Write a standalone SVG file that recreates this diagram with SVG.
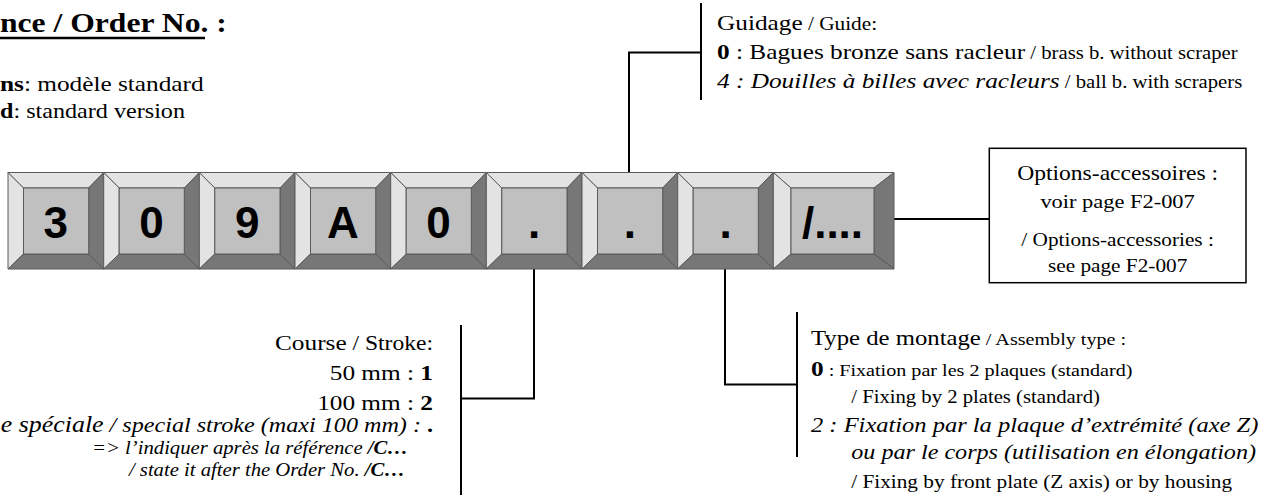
<svg xmlns="http://www.w3.org/2000/svg" width="1264" height="495" viewBox="0 0 1264 495">
<defs>
<style>
.t{font-family:"Liberation Serif","Times New Roman",serif;fill:#000}
.b{font-weight:bold}
.i{font-style:italic}
.k{font-family:"Liberation Sans",Arial,sans-serif;font-weight:bold;font-size:44px;text-anchor:middle;fill:#000}
.lt{fill:#e3e3e3;stroke:#5a5a5a;stroke-width:1}
.dk{fill:#777777;stroke:#5a5a5a;stroke-width:1}
.in{fill:#c0c0c0;stroke:#5a5a5a;stroke-width:1}
.ln{fill:none;stroke:#000;stroke-width:2}
.box{fill:#fff;stroke:#000;stroke-width:1.5}
</style>
</defs>
<rect width="1264" height="495" fill="#fff"/>

<g id="connectors">
<polyline class="ln" points="629,172.5 629,52.5 701,52.5"/>
<line class="ln" x1="701" y1="3" x2="701" y2="100"/>
<polyline class="ln" points="534,269 534,398.5 461,398.5"/>
<line class="ln" x1="461" y1="325" x2="461" y2="495"/>
<polyline class="ln" points="725,269 725,384.5 797,384.5"/>
<line class="ln" x1="797" y1="312" x2="797" y2="457"/>
<line class="ln" x1="894" y1="219" x2="989" y2="219"/>
</g>

<g id="title">
<g transform="translate(0,0) scale(1.15,1)">
<text class="t b" x="0" y="32" font-size="27.5">nce / Order No. :</text>
<text class="t" x="0" y="91" font-size="22"><tspan class="b">ns</tspan>: modèle standard</text>
<text class="t" x="0" y="118" font-size="21"><tspan class="b">d</tspan>: standard version</text>
</g>
<line x1="0" y1="38" x2="205" y2="38" stroke="#000" stroke-width="2.5"/>
</g>

<g id="key1">
<polygon class="lt" points="8,172.5 103.7,172.5 88.7,188 23.5,188"/>
<polygon class="lt" points="8,172.5 23.5,188 23.5,254 8,269"/>
<polygon class="dk" points="103.7,172.5 103.7,269 88.7,254 88.7,188"/>
<polygon class="dk" points="8,269 23.5,254 88.7,254 103.7,269"/>
<rect class="in" x="23.5" y="188" width="65.2" height="66"/>
<text class="k" x="55.8" y="237.5">3</text>
</g>
<g id="key2">
<polygon class="lt" points="103.7,172.5 199.3,172.5 184.3,188 119.2,188"/>
<polygon class="lt" points="103.7,172.5 119.2,188 119.2,254 103.7,269"/>
<polygon class="dk" points="199.3,172.5 199.3,269 184.3,254 184.3,188"/>
<polygon class="dk" points="103.7,269 119.2,254 184.3,254 199.3,269"/>
<rect class="in" x="119.2" y="188" width="65.1" height="66"/>
<text class="k" x="151.5" y="237.5">0</text>
</g>
<g id="key3">
<polygon class="lt" points="199.3,172.5 295,172.5 280,188 214.8,188"/>
<polygon class="lt" points="199.3,172.5 214.8,188 214.8,254 199.3,269"/>
<polygon class="dk" points="295,172.5 295,269 280,254 280,188"/>
<polygon class="dk" points="199.3,269 214.8,254 280,254 295,269"/>
<rect class="in" x="214.8" y="188" width="65.2" height="66"/>
<text class="k" x="247.2" y="237.5">9</text>
</g>
<g id="key4">
<polygon class="lt" points="295,172.5 390.7,172.5 375.7,188 310.5,188"/>
<polygon class="lt" points="295,172.5 310.5,188 310.5,254 295,269"/>
<polygon class="dk" points="390.7,172.5 390.7,269 375.7,254 375.7,188"/>
<polygon class="dk" points="295,269 310.5,254 375.7,254 390.7,269"/>
<rect class="in" x="310.5" y="188" width="65.2" height="66"/>
<text class="k" x="342.8" y="237.5">A</text>
</g>
<g id="key5">
<polygon class="lt" points="390.7,172.5 486.3,172.5 471.3,188 406.2,188"/>
<polygon class="lt" points="390.7,172.5 406.2,188 406.2,254 390.7,269"/>
<polygon class="dk" points="486.3,172.5 486.3,269 471.3,254 471.3,188"/>
<polygon class="dk" points="390.7,269 406.2,254 471.3,254 486.3,269"/>
<rect class="in" x="406.2" y="188" width="65.1" height="66"/>
<text class="k" x="438.5" y="237.5">0</text>
</g>
<g id="key6">
<polygon class="lt" points="486.3,172.5 582,172.5 567,188 501.8,188"/>
<polygon class="lt" points="486.3,172.5 501.8,188 501.8,254 486.3,269"/>
<polygon class="dk" points="582,172.5 582,269 567,254 567,188"/>
<polygon class="dk" points="486.3,269 501.8,254 567,254 582,269"/>
<rect class="in" x="501.8" y="188" width="65.2" height="66"/>
<text class="k" x="534" y="237.5">.</text>
</g>
<g id="key7">
<polygon class="lt" points="582,172.5 677.7,172.5 662.7,188 597.5,188"/>
<polygon class="lt" points="582,172.5 597.5,188 597.5,254 582,269"/>
<polygon class="dk" points="677.7,172.5 677.7,269 662.7,254 662.7,188"/>
<polygon class="dk" points="582,269 597.5,254 662.7,254 677.7,269"/>
<rect class="in" x="597.5" y="188" width="65.2" height="66"/>
<text class="k" x="629.8" y="237.5">.</text>
</g>
<g id="key8">
<polygon class="lt" points="677.7,172.5 773.3,172.5 758.3,188 693.2,188"/>
<polygon class="lt" points="677.7,172.5 693.2,188 693.2,254 677.7,269"/>
<polygon class="dk" points="773.3,172.5 773.3,269 758.3,254 758.3,188"/>
<polygon class="dk" points="677.7,269 693.2,254 758.3,254 773.3,269"/>
<rect class="in" x="693.2" y="188" width="65.1" height="66"/>
<text class="k" x="725.5" y="237.5">.</text>
</g>
<g id="key9">
<polygon class="lt" points="773.3,172.5 894,172.5 874,188 791,188"/>
<polygon class="lt" points="773.3,172.5 791,188 791,254 773.3,269"/>
<polygon class="dk" points="894,172.5 894,269 874,254 874,188"/>
<polygon class="dk" points="773.3,269 791,254 874,254 894,269"/>
<rect class="in" x="791" y="188" width="83" height="66"/>
<text class="k" x="832.5" y="237.5">/....</text>
</g>

<g id="guidage">
<g transform="translate(717,0) scale(1.15,1)">
<text class="t" x="0" y="30" font-size="22">Guidage<tspan font-size="18.5"> / Guide:</tspan></text>
<text class="t" x="0" y="59" font-size="22"><tspan class="b">0</tspan> : Bagues bronze sans racleur<tspan font-size="18"> / brass b. without scraper</tspan></text>
<text class="t" x="0" y="88" font-size="22"><tspan class="i">4 : Douilles à billes avec racleurs</tspan><tspan font-size="18"> / ball b. with scrapers</tspan></text>
</g>
</g>

<g id="options">
<rect class="box" x="989.3" y="148.3" width="256.7" height="134.4"/>
<g transform="translate(1117.6,0) scale(1.15,1)">
<text class="t" x="0" y="180" font-size="20.5" text-anchor="middle">Options-accessoires :</text>
<text class="t" x="0" y="208" font-size="19.5" text-anchor="middle">voir page F2-007</text>
<text class="t" x="0" y="246" font-size="18.5" text-anchor="middle">/ Options-accessories :</text>
<text class="t" x="0" y="272" font-size="18.5" text-anchor="middle">see page F2-007</text>
</g>
</g>

<g id="course">
<g transform="translate(433,0) scale(1.15,1)">
<text class="t" x="0" y="350" font-size="22" text-anchor="end">Course<tspan font-size="20.5"> / Stroke:</tspan></text>
<text class="t" x="0" y="380" font-size="22" text-anchor="end">50 mm : <tspan class="b">1</tspan></text>
<text class="t" x="0" y="410" font-size="22" text-anchor="end">100 mm : <tspan class="b">2</tspan></text>
<text class="t i" x="0" y="432" font-size="22.5" text-anchor="end">e spéciale<tspan font-size="21"> / special stroke (maxi 100 mm) :  </tspan><tspan class="b" font-style="normal" font-size="21">.</tspan></text>
</g>
<g transform="translate(408,0) scale(1.15,1)">
<text class="t i" x="0" y="454" font-size="18" text-anchor="end">=&gt; l’indiquer après la référence <tspan class="b">/C…</tspan></text>
</g>
<g transform="translate(405,0) scale(1.15,1)">
<text class="t i" x="0" y="476" font-size="18" text-anchor="end">/ state it after the Order No.  <tspan class="b">/C…</tspan></text>
</g>
</g>

<g id="montage">
<g transform="translate(811,0) scale(1.15,1)">
<text class="t" x="0" y="345" font-size="21.5">Type de montage<tspan font-size="17.5"> / Assembly type :</tspan></text>
<text class="t" x="0" y="376" font-size="17.5"><tspan class="b" font-size="22">0</tspan> : Fixation par les 2 plaques (standard)</text>
<text class="t" x="35" y="403" font-size="18">/ Fixing by 2 plates (standard)</text>
<text class="t i" x="0" y="432" font-size="21.3">2 : Fixation par la plaque d’extrémité (axe Z)</text>
<text class="t i" x="35" y="459" font-size="21">ou par le corps (utilisation en élongation)</text>
<text class="t" x="35" y="488" font-size="18.5">/ Fixing by front plate (Z axis) or by housing</text>
</g>
</g>
</svg>
